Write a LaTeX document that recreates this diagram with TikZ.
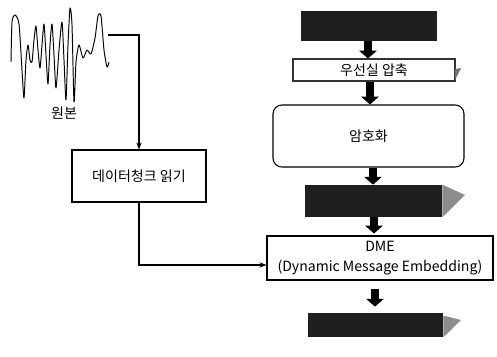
\documentclass[tikz,border=0pt]{standalone}
\usepackage{fontspec}
\setmainfont{Noto Sans CJK KR}
\usetikzlibrary{arrows.meta,calc}
\tikzset{
  px/.style={x=0.02cm,y=-0.02cm},
  box/.style={draw=black,line width=0.6pt,fill=white,inner sep=0pt,font=\fontsize{8}{10}\selectfont},
  blk/.style={fill=black!88,draw=none,inner sep=0pt},
  wedge/.style={fill=black!45,draw=none},
  thickarrow/.style={line width=4pt,-{Triangle[width=10pt,length=4.5pt]}},
  thin/.style={line width=0.6pt,-{Stealth[length=4pt,width=3pt]}},
  wave/.style={line width=0.55pt,line join=round}
}
\begin{document}
\begin{tikzpicture}[px]
\useasboundingbox (0,0) rectangle (497,356);
% waveform
\draw[wave] plot[smooth,tension=0.4] coordinates {
 (11,62) (12,22) (15,15) (19,24) (22,70) (24,98) (26,60) (28,45) (30,60) (32,62)
 (34,40) (36,26) (38,50) (40,68) (42,45) (44,24) (46,55) (48,84) (50,45) (52,24)
 (54,55) (56,88) (59,50) (62,22) (64,60) (66,100) (68,45) (70,8) (72,25) (74,102)
 (76,62) (79,45) (83,58) (87,50) (91,54) (95,38) (98,16) (101,16) (104,50) (107,67) (109,62)};
\coordinate (wend) at (108,35);
\node[font=\fontsize{8}{10}\selectfont] (orig) at (64,113) {원본};
% left box
\node[box,minimum width=2.68cm,minimum height=1.04cm] (read) at (139,176) {데이터청크 읽기};
% right column
\node[blk,minimum width=2.72cm,minimum height=0.6cm] (b1) at (369,26) {};
\node[box,draw=black!80,minimum width=3.24cm,minimum height=0.44cm] (loss) at (374,70) {우선실 압축};
\fill[wedge,fill=black!55] (455,69) -- (461,68) -- (455,80) -- cycle;
\node[box,rounded corners=5pt,minimum width=3.82cm,minimum height=1.24cm] (enc) at (368.5,136) {암호화};
\node[blk,minimum width=2.74cm,minimum height=0.64cm] (b2) at (373.5,201) {};
\fill[wedge] (b2.north east) -- (465,195) -- (b2.south east) -- cycle;
\node[box,minimum width=4.52cm,minimum height=0.88cm,align=center] (dme) at (380,258)
  {DME\\[1.5pt](Dynamic Message Embedding)};
\node[blk,minimum width=2.7cm,minimum height=0.48cm] (b3) at (375.5,325) {};
\fill[wedge] ([yshift=-0.06cm]b3.north east) -- (461,320) -- (b3.south east) -- cycle;
% thick arrows
\draw[thickarrow] (b1.south -| 368,0) -- (loss.north -| 368,0);
\draw[thickarrow] (loss.south -| 370,0) -- (enc.north -| 370,0);
\draw[thickarrow] (enc.south -| 373,0) -- (b2.north -| 373,0);
\draw[thickarrow] (b2.south -| 374,0) -- ([yshift=0.04cm]dme.north -| 374,0);
\draw[thickarrow,shorten <=0.16cm,shorten >=0.12cm] (dme.south -| 375,0) -- (b3.north -| 375,0);
% thin connectors
\draw[thin] (wend) -| (read.north);
\draw[thin] (read.south) |- ([yshift=-0.14cm]dme.west);
\end{tikzpicture}
\end{document}
